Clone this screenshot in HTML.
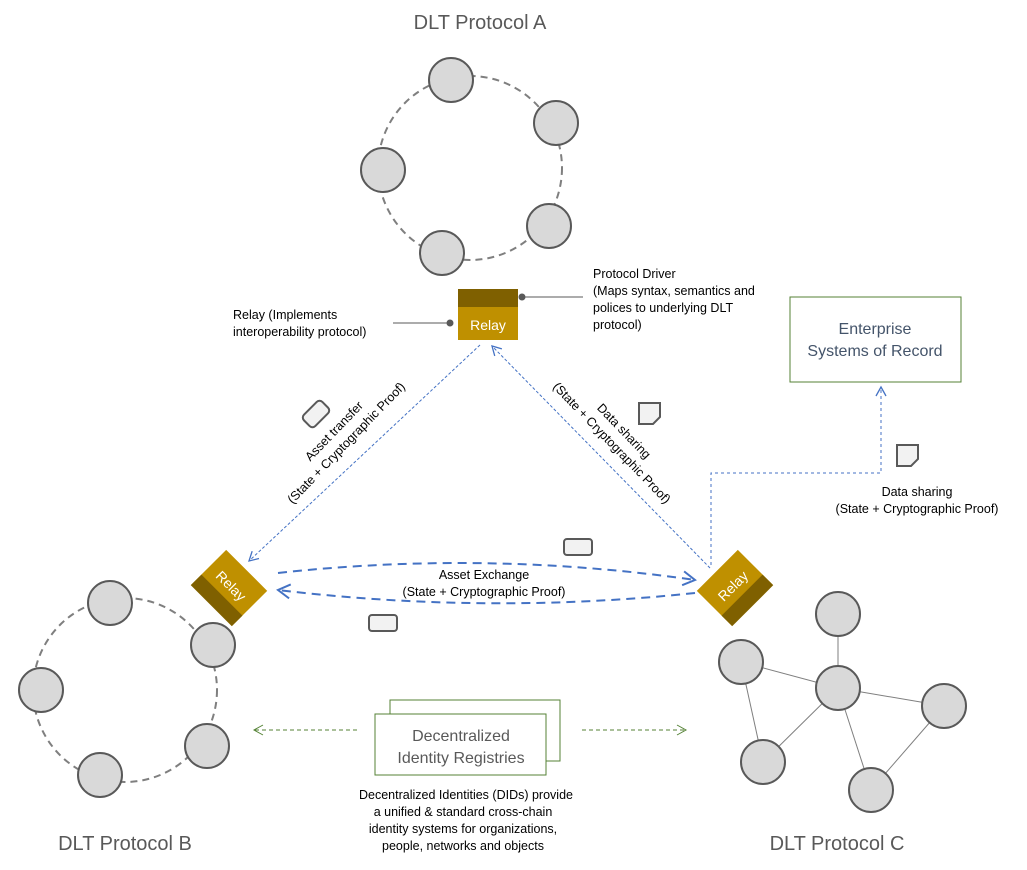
<!DOCTYPE html>
<html><head><meta charset="utf-8"><style>
body{margin:0;background:#fff}
svg{display:block;font-family:"Liberation Sans",sans-serif}
</style></head><body>
<svg width="1027" height="870" viewBox="0 0 1027 870" xmlns="http://www.w3.org/2000/svg">
<defs>
<marker id="ab" markerWidth="12" markerHeight="12" refX="10" refY="6" orient="auto" markerUnits="userSpaceOnUse"><path d="M1,1 L10,6 L1,11" fill="none" stroke="#4472C4" stroke-width="1.3"/></marker>
<marker id="ab2" markerWidth="16" markerHeight="16" refX="13" refY="8" orient="auto" markerUnits="userSpaceOnUse"><path d="M1,1 L13,8 L1,15" fill="none" stroke="#4472C4" stroke-width="2"/></marker>
<marker id="ag" markerWidth="12" markerHeight="12" refX="10" refY="6" orient="auto" markerUnits="userSpaceOnUse"><path d="M1,1 L10,6 L1,11" fill="none" stroke="#548235" stroke-width="1"/></marker>
</defs>
<g font-size="20" fill="#595959" text-anchor="middle">
<text x="480" y="29">DLT Protocol A</text>
<text x="125" y="850">DLT Protocol B</text>
<text x="837" y="850">DLT Protocol C</text>
</g>
<!-- Protocol A -->
<circle cx="470" cy="168" r="92" fill="none" stroke="#7f7f7f" stroke-width="2" stroke-dasharray="7,5"/>
<g fill="#d9d9d9" stroke="#595959" stroke-width="2">
<circle cx="451" cy="80" r="22"/><circle cx="556" cy="123" r="22"/><circle cx="383" cy="170" r="22"/><circle cx="549" cy="226" r="22"/><circle cx="442" cy="253" r="22"/>
</g>
<!-- Protocol B -->
<circle cx="125" cy="690" r="92" fill="none" stroke="#7f7f7f" stroke-width="2" stroke-dasharray="7,5"/>
<g fill="#d9d9d9" stroke="#595959" stroke-width="2">
<circle cx="110" cy="603" r="22"/><circle cx="213" cy="645" r="22"/><circle cx="41" cy="690" r="22"/><circle cx="207" cy="746" r="22"/><circle cx="100" cy="775" r="22"/>
</g>
<!-- Protocol C -->
<g stroke="#7f7f7f" stroke-width="1">
<line x1="838" y1="614" x2="838" y2="688"/><line x1="741" y1="662" x2="838" y2="688"/><line x1="838" y1="688" x2="944" y2="706"/><line x1="838" y1="688" x2="763" y2="762"/><line x1="838" y1="688" x2="871" y2="790"/><line x1="741" y1="662" x2="763" y2="762"/><line x1="944" y1="706" x2="871" y2="790"/>
</g>
<g fill="#d9d9d9" stroke="#595959" stroke-width="2">
<circle cx="838" cy="614" r="22"/><circle cx="741" cy="662" r="22"/><circle cx="838" cy="688" r="22"/><circle cx="944" cy="706" r="22"/><circle cx="763" cy="762" r="22"/><circle cx="871" cy="790" r="22"/>
</g>
<!-- top relay -->
<rect x="458" y="289" width="60" height="51" fill="#BF9000"/>
<rect x="458" y="289" width="60" height="18" fill="#7F6000"/>
<text x="488" y="330" font-size="14" fill="#fff" text-anchor="middle">Relay</text>
<g stroke="#595959" stroke-width="1" fill="#595959">
<line x1="393" y1="323" x2="450" y2="323"/><circle cx="450" cy="323" r="3"/>
<line x1="522" y1="297" x2="583" y2="297"/><circle cx="522" cy="297" r="3"/>
</g>
<g font-size="12.5" fill="#000">
<text x="233" y="319">Relay (Implements</text>
<text x="233" y="336">interoperability protocol)</text>
<text x="593" y="278">Protocol Driver</text>
<text x="593" y="295">(Maps syntax, semantics and</text>
<text x="593" y="312">polices to underlying DLT</text>
<text x="593" y="329">protocol)</text>
</g>
<!-- left relay -->
<g transform="translate(229,588) rotate(45)">
<rect x="-29" y="-25" width="58" height="50" fill="#BF9000"/>
<rect x="-29" y="10" width="58" height="15" fill="#7F6000"/>
<text x="0" y="2" font-size="14" fill="#fff" text-anchor="middle">Relay</text>
</g>
<!-- right relay -->
<g transform="translate(735,588) rotate(-45)">
<rect x="-29" y="-25" width="58" height="50" fill="#BF9000"/>
<rect x="-29" y="10" width="58" height="15" fill="#7F6000"/>
<text x="0" y="2" font-size="14" fill="#fff" text-anchor="middle">Relay</text>
</g>
<!-- diagonal arrows -->
<line x1="480" y1="345" x2="249" y2="561" stroke="#4472C4" stroke-width="1" stroke-dasharray="3,2" marker-end="url(#ab)"/>
<line x1="710" y1="568" x2="492" y2="346" stroke="#4472C4" stroke-width="1" stroke-dasharray="3,2" marker-end="url(#ab)"/>
<g font-size="12.5" fill="#000" text-anchor="middle">
<text transform="translate(337,434) rotate(-46)"><tspan x="0" y="0">Asset transfer</tspan><tspan x="0" y="17">(State + Cryptographic Proof)</tspan></text>
<text transform="translate(621,434) rotate(46)"><tspan x="0" y="0">Data sharing</tspan><tspan x="0" y="17">(State + Cryptographic Proof)</tspan></text>
</g>
<!-- asset exchange -->
<path d="M278,573 Q487,550 695,580" fill="none" stroke="#4472C4" stroke-width="2" stroke-dasharray="9,6" marker-end="url(#ab2)"/>
<path d="M695,593 Q487,615 278,590" fill="none" stroke="#4472C4" stroke-width="2" stroke-dasharray="9,6" marker-end="url(#ab2)"/>
<g font-size="12.5" fill="#000" text-anchor="middle">
<text x="484" y="579">Asset Exchange</text>
<text x="484" y="596">(State + Cryptographic Proof)</text>
</g>
<!-- icons -->
<g fill="#f2f2f2" stroke="#595959" stroke-width="2">
<rect x="303" y="406" width="26" height="16" rx="4" transform="rotate(-45 316 414)"/>
<rect x="564" y="539" width="28" height="16" rx="3"/>
<rect x="369" y="615" width="28" height="16" rx="3"/>
<path d="M639,403 H660 V417 L653,424 H639 Z"/>
<path d="M897,445 H918 V459 L911,466 H897 Z"/>
</g>
<!-- enterprise -->
<rect x="790" y="297" width="171" height="85" fill="#fff" stroke="#548235" stroke-width="1"/>
<g font-size="16" fill="#44546A" text-anchor="middle">
<text x="875" y="334">Enterprise</text>
<text x="875" y="356">Systems of Record</text>
</g>
<path d="M711,565 V473 H881 V387" fill="none" stroke="#4472C4" stroke-width="1" stroke-dasharray="3,3" marker-end="url(#ab)"/>
<g font-size="12.5" fill="#000" text-anchor="middle">
<text x="917" y="496">Data sharing</text>
<text x="917" y="513">(State + Cryptographic Proof)</text>
</g>
<!-- DID -->
<rect x="390" y="700" width="170" height="61" fill="#fff" stroke="#548235" stroke-width="1"/>
<rect x="375" y="714" width="171" height="61" fill="#fff" stroke="#548235" stroke-width="1"/>
<g font-size="16" fill="#595959" text-anchor="middle">
<text x="461" y="741">Decentralized</text>
<text x="461" y="763">Identity Registries</text>
</g>
<line x1="357" y1="730" x2="254" y2="730" stroke="#548235" stroke-width="1" stroke-dasharray="4,3" marker-end="url(#ag)"/>
<line x1="582" y1="730" x2="686" y2="730" stroke="#548235" stroke-width="1" stroke-dasharray="4,3" marker-end="url(#ag)"/>
<g font-size="12.5" fill="#000" text-anchor="middle">
<text x="466" y="799">Decentralized Identities (DIDs) provide</text>
<text x="463" y="816">a unified &amp; standard cross-chain</text>
<text x="463" y="833">identity systems for organizations,</text>
<text x="463" y="850">people, networks and objects</text>
</g>
</svg>
</body></html>
